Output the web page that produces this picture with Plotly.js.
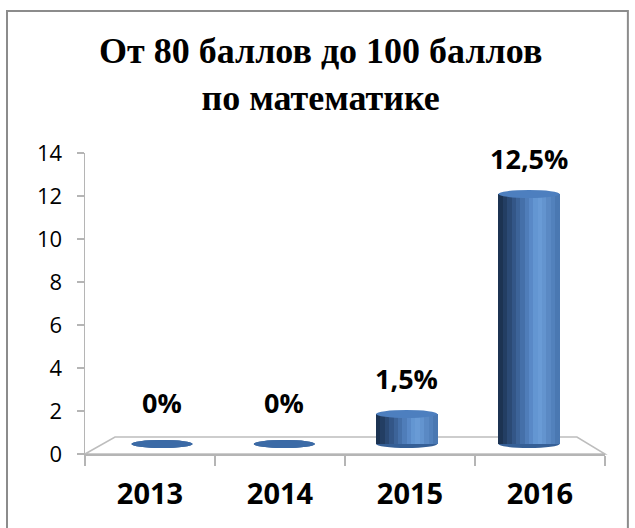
<!DOCTYPE html>
<html>
<head>
<meta charset="utf-8">
<script src="https://cdn.plot.ly/plotly-3.0.1.min.js"></script>
<style>html,body{margin:0;padding:0;background:#fff}</style>
</head>
<body>
<div id="chart" style="width:635px;height:528px"></div>
<script>
// data
var years = ["2013", "2014", "2015", "2016"];
var percents = [0, 0, 1.5, 12.5];
var labels = ["0%", "0%", "1,5%", "12,5%"];
var yTicks = [0, 2, 4, 6, 8, 10, 12, 14];

// cylinder shading, left edge to right edge
var shades = ['#1c3352', '#233e63', '#2b4a75', '#335687', '#3c6398', '#4570a9', '#4f7db9', '#5989c7', '#6396d2', '#699bd6',
              '#6394cf', '#5a89c4', '#5281bc', '#4a78b2'];
var barW = 0.5;
var capH = 0.2;   // half height of the ellipses, in y2 units

var idx = percents.map(function (v, i) { return i; });
var traces = [];

// invisible trace so the category axis gets its labels
traces.push({
    x: years, y: years.map(function () { return null; }),
    type: 'scatter', mode: 'markers', hoverinfo: 'skip', showlegend: false
});

// each cylinder is a stack of thin vertical stripes
shades.forEach(function (c, k) {
    traces.push({
        x: idx, y: percents, type: 'bar', xaxis: 'x2', yaxis: 'y2',
        width: barW / shades.length + 0.004,
        offset: -barW / 2 + k * barW / shades.length,
        marker: {color: c, line: {width: 0}},
        hoverinfo: 'skip', showlegend: false
    });
});

var shapes = [];
// outer frame
shapes.push({type: 'rect', xref: 'paper', yref: 'paper', x0: -0.15, x1: 1.044, y0: -0.26, y1: 1.472,
    line: {color: '#8c8c8c', width: 2}, fillcolor: 'rgba(0,0,0,0)', layer: 'below'});
// 3d floor
shapes.push({type: 'path', xref: 'paper', yref: 'paper',
    path: 'M0,0 L0.0577,0.0565 L0.946,0.0565 L1,0 Z',
    line: {color: '#bdbdbd', width: 1.5}, fillcolor: '#ffffff', layer: 'below'});

percents.forEach(function (v, i) {
    // bottom of cylinder
    shapes.push({type: 'circle', xref: 'x2', yref: 'y2', x0: i - barW / 2, x1: i + barW / 2,
        y0: -capH, y1: capH, line: {width: 0}, fillcolor: '#355f96', layer: 'below'});
    // top of cylinder
    shapes.push({type: 'circle', xref: 'x2', yref: 'y2', x0: i - barW / 2, x1: i + barW / 2,
        y0: v - capH, y1: v + capH, line: {width: 0},
        fillcolor: v > 0 ? '#4d7fbf' : '#3b6aa6', layer: 'above'});
});

var annotations = percents.map(function (v, i) {
    return {
        x: i, y: v, xref: 'x2', yref: 'y2', text: '<b>' + labels[i] + '</b>',
        showarrow: false, yanchor: 'middle', yshift: v > 0 ? 36 : 42,
        font: {family: 'Open Sans', size: 27, color: '#000'}
    };
});

var layout = {
    width: 635, height: 528,
    margin: {l: 85, r: 30, t: 153, b: 74},
    paper_bgcolor: '#ffffff', plot_bgcolor: 'rgba(0,0,0,0)',
    barmode: 'overlay', bargap: 0,
    title: {
        text: '<b>От 80 баллов до 100 баллов<br>по математике</b>',
        font: {family: 'Liberation Serif', size: 36, color: '#000'},
        x: 0.505, xref: 'container', xanchor: 'center',
        y: 0.88, yref: 'container', yanchor: 'middle'
    },
    xaxis: {
        type: 'category', categoryarray: years, range: [-0.5, 3.5],
        showline: true, linecolor: '#b5b5b5', linewidth: 1.5,
        ticks: 'outside', tickson: 'boundaries', ticklen: 10, tickcolor: '#b5b5b5', tickwidth: 1.5,
        tickfont: {family: 'Open Sans', size: 29, color: '#000', weight: 'bold'},
        ticklabelstandoff: 14,
        showgrid: false, zeroline: false, fixedrange: true
    },
    yaxis: {
        range: [0, 14], tickvals: yTicks,
        showline: true, linecolor: '#b5b5b5', linewidth: 1.5,
        ticks: 'outside', ticklen: 7, tickcolor: '#b5b5b5', tickwidth: 1.5,
        tickfont: {family: 'Open Sans', size: 22, color: '#000'},
        ticklabelstandoff: 10,
        showgrid: false, zeroline: false, fixedrange: true
    },
    xaxis2: {overlaying: 'x', range: [-0.6296, 3.6214], visible: false, fixedrange: true},
    yaxis2: {overlaying: 'y', range: [-0.5, 14.55], visible: false, fixedrange: true},
    shapes: shapes,
    annotations: annotations,
    showlegend: false,
    hovermode: false
};

Plotly.newPlot('chart', traces, layout, {displayModeBar: false, staticPlot: true});
</script>
</body>
</html>
